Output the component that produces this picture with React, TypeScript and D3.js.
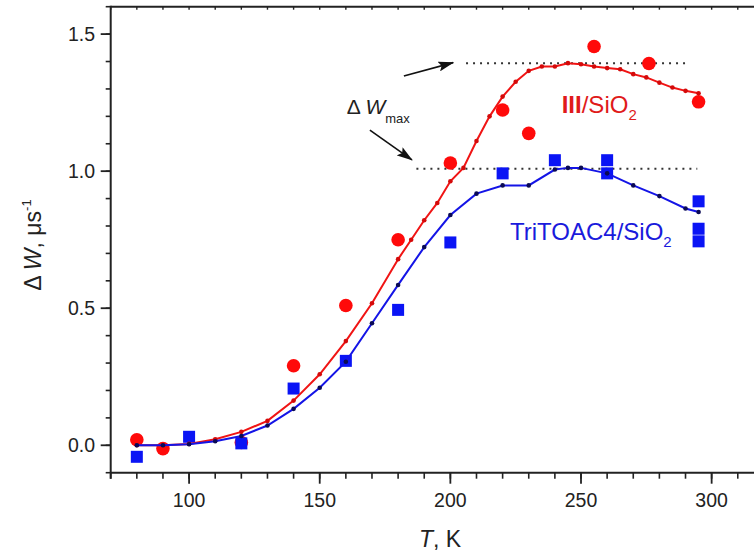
import React from 'react';
import * as d3 from 'd3';

// ---- data ----
const redLineT = [80, 90, 100, 110, 120, 130, 140, 150, 160, 170, 180, 185, 190, 195, 200, 205, 210, 215, 220, 225, 230, 235, 240, 245, 250, 255, 260, 265, 270, 275, 280, 285, 290, 295];
const redLineV = [0.0, 0.0, 0.005, 0.022, 0.049, 0.089, 0.163, 0.259, 0.38, 0.518, 0.679, 0.75, 0.821, 0.884, 0.963, 1.012, 1.11, 1.2, 1.272, 1.326, 1.366, 1.382, 1.382, 1.394, 1.39, 1.382, 1.376, 1.372, 1.354, 1.342, 1.323, 1.305, 1.293, 1.284];

const blueLineT = [80, 90, 100, 110, 120, 130, 140, 150, 160, 170, 180, 190, 200, 210, 220, 230, 240, 245, 250, 260, 270, 280, 290, 295];
const blueLineV = [0.0, 0.0, 0.004, 0.015, 0.034, 0.072, 0.133, 0.21, 0.305, 0.445, 0.585, 0.723, 0.84, 0.918, 0.948, 0.948, 1.006, 1.012, 1.012, 0.992, 0.948, 0.909, 0.864, 0.851];

const redScatterT = [80, 90, 120, 140, 160, 180, 200, 220, 230, 255, 276, 295];
const redScatterV = [0.02, -0.012, 0.01, 0.29, 0.51, 0.75, 1.03, 1.223, 1.138, 1.455, 1.393, 1.253];

const blueScatterT = [80, 100, 120, 140, 160, 180, 200, 220, 240, 260, 260, 295, 295, 295];
const blueScatterV = [-0.042, 0.031, 0.007, 0.207, 0.308, 0.494, 0.74, 0.992, 1.04, 1.04, 0.992, 0.89, 0.79, 0.744];

const maxLevels = [1.394, 1.009];
const maxFromT = [206, 187];
const maxToT = [290, 294.5];

const xMajorTicks = [100, 150, 200, 250, 300];
const yMajorTicks = [0, 0.5, 1.0, 1.5];

// annotation anchors (data space)
const arrowFrom: [number, number][] = [[182.2, 1.347], [169.2, 1.15]];
const arrowTo: [number, number][] = [[201.1, 1.396], [185.3, 1.041]];

const W = 754;
const H = 554;
const FONT = "'Liberation Sans', Arial, Helvetica, sans-serif";

const x = d3.scaleLinear().domain([70, 320]).range([110.7, 763.9]);
const y = d3.scaleLinear().domain([-0.1, 1.6]).range([472.7, 6.7]);

const line = d3
  .line<[number, number]>()
  .x((d) => x(d[0]))
  .y((d) => y(d[1]))
  .curve(d3.curveLinear);

export default function App() {
  const redLine = redLineT.map((t, i) => [t, redLineV[i]] as [number, number]);
  const blueLine = blueLineT.map((t, i) => [t, blueLineV[i]] as [number, number]);
  const xMinor = d3.range(70, 321, 10);
  const yMinor = d3.range(-0.1, 1.6001, 0.1).map((v) => Math.round(v * 10) / 10);
  const x0 = x.range()[0];
  const yb = y.range()[0];
  const yt = y.range()[1];
  const xr = x.range()[1];

  return (
    <svg
      width={W}
      height={H}
      style={{ position: 'absolute', left: 0, top: 0, background: '#fff' }}
      fontFamily={FONT}
    >
      <defs>
        <marker
          id="ah"
          markerUnits="userSpaceOnUse"
          markerWidth={16}
          markerHeight={10}
          refX={15}
          refY={5}
          orient="auto"
        >
          <path d="M0,0 L16,5 L0,10 L3,5 z" fill="#111" />
        </marker>
      </defs>
      <rect x={0} y={0} width={W} height={H} fill="#fff" />

      {/* dotted max lines */}
      {maxLevels.map((v, i) => (
        <line
          key={'ml' + i}
          x1={x(maxFromT[i])}
          x2={x(maxToT[i])}
          y1={y(v)}
          y2={y(v)}
          stroke="#333"
          strokeWidth={2}
          strokeDasharray="2 5"
        />
      ))}

      {/* scatter */}
      {redScatterT.map((t, i) => (
        <circle key={'rc' + i} cx={x(t)} cy={y(redScatterV[i])} r={6.8} fill="#ff0a0a" />
      ))}
      {blueScatterT.map((t, i) => (
        <rect
          key={'bs' + i}
          x={x(t) - 6}
          y={y(blueScatterV[i]) - 6}
          width={12}
          height={12}
          fill="#0a14f5"
        />
      ))}

      {/* lines */}
      <path d={line(redLine) || ''} fill="none" stroke="#f01414" strokeWidth={2} />
      {redLine.map((d, i) => (
        <circle key={'rd' + i} cx={x(d[0])} cy={y(d[1])} r={2.3} fill="#d40a0a" />
      ))}
      <path d={line(blueLine) || ''} fill="none" stroke="#1414e6" strokeWidth={2} />
      {blueLine.map((d, i) => (
        <circle key={'bd' + i} cx={x(d[0])} cy={y(d[1])} r={2.3} fill="#0a0a55" />
      ))}

      {/* arrows */}
      {arrowFrom.map((f, i) => (
        <line
          key={'ar' + i}
          x1={x(f[0])}
          y1={y(f[1])}
          x2={x(arrowTo[i][0])}
          y2={y(arrowTo[i][1])}
          stroke="#111"
          strokeWidth={1.6}
          markerEnd="url(#ah)"
        />
      ))}

      {/* axes frame */}
      <line x1={x0} x2={xr + 5} y1={yb} y2={yb} stroke="#222" strokeWidth={2} />
      <line x1={x0} x2={xr + 5} y1={yt} y2={yt} stroke="#222" strokeWidth={2} />
      <line x1={x0} x2={x0} y1={yt - 1} y2={yb + 6} stroke="#222" strokeWidth={2} />

      {/* x ticks */}
      {xMinor.map((t) => (
        <line key={'xm' + t} x1={x(t)} x2={x(t)} y1={yb} y2={yb + 6} stroke="#222" strokeWidth={1.6} />
      ))}
      {xMajorTicks.map((t) => (
        <line key={'xM' + t} x1={x(t)} x2={x(t)} y1={yb} y2={yb + 11} stroke="#222" strokeWidth={1.8} />
      ))}
      {xMinor.map((t) => (
        <line key={'xt' + t} x1={x(t)} x2={x(t)} y1={yt} y2={yt + 3} stroke="#222" strokeWidth={1.4} />
      ))}
      {xMajorTicks.map((t) => (
        <text key={'xl' + t} x={x(t)} y={507} textAnchor="middle" fontSize={19.5} fill="#222">
          {t}
        </text>
      ))}

      {/* y ticks */}
      {yMinor.map((v) => (
        <line key={'ym' + v} x1={x0 - 5} x2={x0} y1={y(v)} y2={y(v)} stroke="#222" strokeWidth={1.6} />
      ))}
      {yMajorTicks.map((v) => (
        <line key={'yM' + v} x1={x0 - 10} x2={x0} y1={y(v)} y2={y(v)} stroke="#222" strokeWidth={1.8} />
      ))}
      {yMajorTicks.map((v) => (
        <text key={'yl' + v} x={95} y={y(v) + 7} textAnchor="end" fontSize={19.5} fill="#222">
          {v.toFixed(1)}
        </text>
      ))}

      {/* axis titles */}
      <text x={440} y={547} textAnchor="middle" fontSize={23} fill="#222">
        <tspan fontStyle="italic">T</tspan>
        <tspan>, K</tspan>
      </text>
      <text
        transform="translate(41,245) rotate(-90)"
        textAnchor="middle"
        fontSize={23}
        fill="#222"
      >
        <tspan>Δ </tspan>
        <tspan fontStyle="italic">W</tspan>
        <tspan>, μs</tspan>
        <tspan fontSize={13} dy={-10}>-1</tspan>
      </text>

      {/* annotations */}
      <text x={346.7} y={114} fontSize={21} fill="#222">
        <tspan>Δ </tspan>
        <tspan fontStyle="italic">W</tspan>
        <tspan fontSize={13} dy={9}>max</tspan>
      </text>
      <text x={561.7} y={113.3} fontSize={24} fill="#e01a1a">
        <tspan fontWeight="bold">III</tspan>
        <tspan>/SiO</tspan>
        <tspan fontSize={15} dy={7}>2</tspan>
      </text>
      <text x={510} y={240} fontSize={24} fill="#1a1adc">
        <tspan>TriTOAC4/SiO</tspan>
        <tspan fontSize={15} dy={7}>2</tspan>
      </text>
    </svg>
  );
}
